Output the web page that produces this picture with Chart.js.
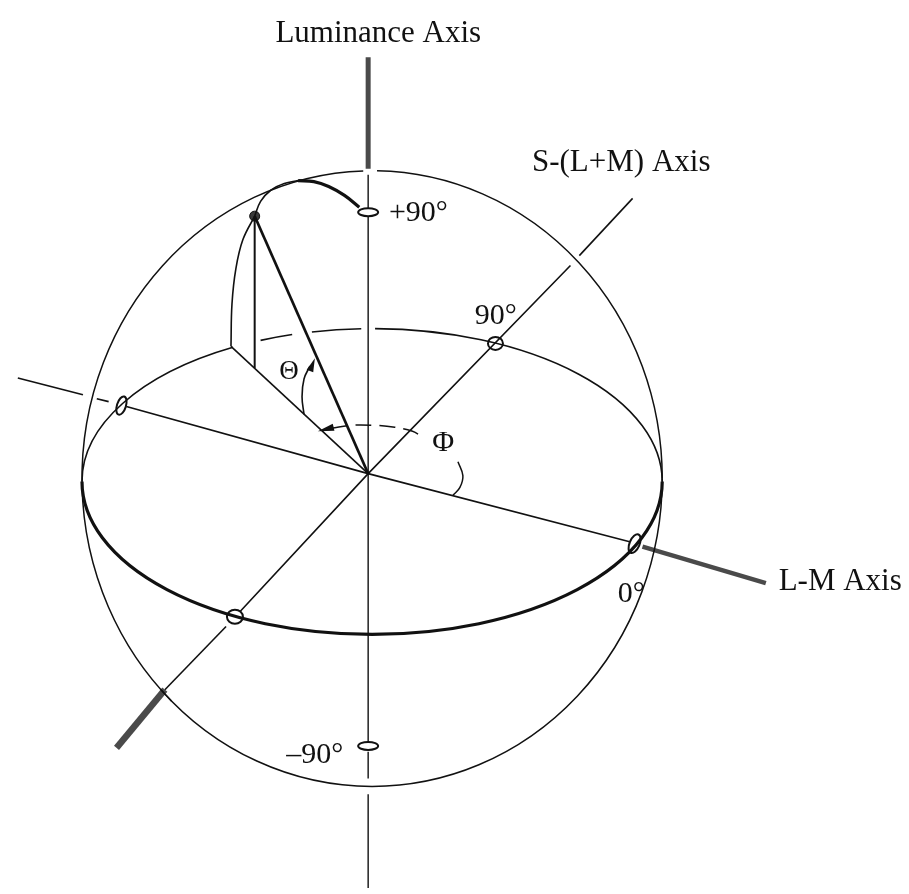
<!DOCTYPE html>
<html>
<head>
<meta charset="utf-8">
<script src="https://cdn.jsdelivr.net/npm/chart.js@4.4.0/dist/chart.umd.min.js"></script>
<style>
  html, body { margin: 0; padding: 0; background: #fff; overflow: hidden; }
  canvas { display: block; }
</style>
</head>
<body>
<canvas id="dklChart" width="909" height="894"></canvas>
<script>
// picture units: x to the right, y downwards (y scale is reversed)
const origin = [367, 474];

const lumAxisOuter = [[367, 52], [367, 165]];
const lumAxisInner = [[367, 171], [367, 205]];
const lumAxisMiddle = [[367, 213], [367, 746]];
const lumAxisLower = [[367, 756], [367, 783]];
const lumAxisBottom = [[367, 799], [367, 894]];

const lmAxisBack = [[12, 377], [78, 394]];
const lmAxisDash = [[92, 398], [104, 401]];
const lmAxisInner = [[122, 406], [367, 474], [632, 543]];
const lmAxisOuter = [[645, 548], [770, 585]];

const sAxisUpper = [[635, 195], [581, 253]];
const sAxisInner = [[572, 263], [367, 474], [237, 614]];
const sAxisLower = [[223, 629], [161, 693]];
const sAxisOuter = [[161, 693], [112, 752]];

const stimulusPoint = [[252, 213]];
const meridianThin = [[252, 213], [258, 198], [268, 187], [282, 180], [296, 177]];
const meridianThick = [[296, 177], [312, 178], [327, 183], [343, 192], [358, 204]];
const meridianDown = [[252, 213], [240, 237], [233, 266], [229, 302], [228, 345]];
const radiusLine = [[252, 213], [367, 474]];
const projectionDrop = [[252, 213], [252, 367]];
const projectionLine = [[228, 345], [367, 474]];

const thetaArc = [[302, 414], [300, 396], [302, 378], [308, 365]];
const phiArc = [[330, 428], [350, 425], [372, 425], [394, 427], [412, 431], [421, 436]];
const phiStartArc = [[458, 462], [463, 476], [460, 488], [453, 496]];

// sphere outline and equator: centre and semi-axes
const sphere = { c: [371, 479], r: [294, 312] };
const equator = { c: [371, 482], r: [294, 155] };
const sphereGaps = [[[362, 167], [376, 167]], [[157, 692], [168, 704]]];
const equatorBackGapsX = [[230, 258], [290, 310], [360, 374]];

const markerCenters = [[367, 209], [367, 750], [117, 405], [637, 545], [496, 342], [232, 619]];
const arrowHeads = [[[313, 357], [308, 370]], [[316, 431], [332, 427]]];

const labelTexts = ['Luminance Axis', 'S-(L+M) Axis', 'L-M Axis', '+90°', '90°', '\u201390°', '0°', 'Θ', 'Φ'];
const labelAnchors = [[273, 36], [533, 167], [783, 592], [388, 218], [475, 322], [284, 767], [620, 604], [277, 378], [432, 451]];

// styling
const ink = '#111';
const axisGrey = '#4a4a4a';
const markerShapes = [[10, 4, 0], [10, 4, 0], [4.5, 9.5, 0.3], [5, 10, 0.4], [7.5, 6.5, 0], [8, 7, 0]];
const labelSizes = [31, 31, 31, 30, 30, 30, 30, 27, 30];

const pts = arr => arr.map(([x, y]) => ({ x, y }));

const segment = (arr, width, color = ink, extra = {}) => ({
    data: pts(arr),
    showLine: true,
    borderColor: color,
    borderWidth: width,
    pointRadius: 0,
    fill: false,
    tension: 0,
    ...extra,
});

const curve = (arr, width, extra = {}) => segment(arr, width, ink, { tension: 0.4, ...extra });

const datasets = [
    segment(lumAxisOuter, 5, axisGrey),
    segment(lumAxisInner, 1.4),
    segment(lumAxisMiddle, 1.4),
    segment(lumAxisLower, 1.4),
    segment(lumAxisBottom, 1.4),
    segment(lmAxisBack, 1.6),
    segment(lmAxisDash, 1.6),
    segment(lmAxisInner, 1.6),
    segment(lmAxisOuter, 4.5, axisGrey),
    segment(sAxisUpper, 1.6),
    segment(sAxisInner, 1.6),
    segment(sAxisLower, 1.6),
    segment(sAxisOuter, 6.5, axisGrey),
    curve(meridianThin, 1.6),
    curve(meridianThick, 3.2),
    curve(meridianDown, 1.6),
    segment(radiusLine, 2.6),
    segment(projectionDrop, 2),
    segment(projectionLine, 1.6),
    curve(thetaArc, 1.6),
    curve(phiArc, 1.5, { borderDash: [16, 8] }),
    curve(phiStartArc, 1.5),
    {
        data: pts(stimulusPoint),
        pointRadius: 5,
        pointBackgroundColor: '#3a3a3a',
        pointBorderColor: ink,
        pointBorderWidth: 1,
        showLine: false,
    },
];

const angleOf = (e, [x, y]) => {
    const t = Math.atan2((y - e.c[1]) / e.r[1], (x - e.c[0]) / e.r[0]);
    return t < 0 ? t + 2 * Math.PI : t;
};

const overlay = {
    id: 'overlay',
    afterDatasetsDraw(chart) {
        const { ctx, scales: { x: xs, y: ys } } = chart;
        const px = v => xs.getPixelForValue(v);
        const py = v => ys.getPixelForValue(v);

        const arc = (e, t0, t1, gaps, width) => {
            const cx = px(e.c[0]);
            const cy = py(e.c[1]);
            const rx = Math.abs(px(e.c[0] + e.r[0]) - cx);
            const ry = Math.abs(py(e.c[1] + e.r[1]) - cy);
            ctx.lineWidth = width;
            let start = t0;
            gaps.slice().sort((a, b) => a[0] - b[0]).forEach(([a, b]) => {
                ctx.beginPath();
                ctx.ellipse(cx, cy, rx, ry, 0, start, a);
                ctx.stroke();
                start = b;
            });
            ctx.beginPath();
            ctx.ellipse(cx, cy, rx, ry, 0, start, t1);
            ctx.stroke();
        };

        ctx.save();
        ctx.strokeStyle = ink;
        ctx.fillStyle = ink;

        // sphere outline
        arc(sphere, 0, 2 * Math.PI, sphereGaps.map(([p, q]) => [angleOf(sphere, p), angleOf(sphere, q)]), 1.5);

        // equator: thick front half, thin broken back half
        arc(equator, 0, Math.PI, [], 3.2);
        const backGaps = equatorBackGapsX.map(([a, b]) => [
            2 * Math.PI - Math.acos((a - equator.c[0]) / equator.r[0]),
            2 * Math.PI - Math.acos((b - equator.c[0]) / equator.r[0]),
        ]);
        arc(equator, Math.PI, 2 * Math.PI, backGaps, 1.6);

        // small open markers on the axes
        ctx.lineWidth = 2;
        markerCenters.forEach(([x, y], i) => {
            const [rx, ry, rot] = markerShapes[i];
            ctx.beginPath();
            ctx.ellipse(px(x), py(y), rx, ry, rot, 0, 2 * Math.PI);
            ctx.stroke();
        });

        // arrow heads on the angle arcs
        arrowHeads.forEach(([tip, tail]) => {
            const tx = px(tip[0]), ty = py(tip[1]);
            const bx = px(tail[0]), by = py(tail[1]);
            const len = Math.hypot(tx - bx, ty - by);
            const nx = -(ty - by) / len * 3.5;
            const ny = (tx - bx) / len * 3.5;
            ctx.beginPath();
            ctx.moveTo(tx, ty);
            ctx.lineTo(bx + nx, by + ny);
            ctx.lineTo(bx - nx, by - ny);
            ctx.closePath();
            ctx.fill();
        });

        // labels
        ctx.textBaseline = 'alphabetic';
        ctx.textAlign = 'left';
        labelTexts.forEach((text, i) => {
            ctx.font = `${labelSizes[i]}px "Liberation Serif", "DejaVu Serif", serif`;
            ctx.fillText(text, px(labelAnchors[i][0]), py(labelAnchors[i][1]));
        });
        ctx.restore();
    },
};

new Chart(document.getElementById('dklChart'), {
    type: 'scatter',
    data: { datasets },
    options: {
        responsive: false,
        animation: false,
        events: [],
        layout: { padding: 0 },
        plugins: {
            legend: { display: false },
            tooltip: { enabled: false },
        },
        scales: {
            x: { type: 'linear', min: 0, max: 909, display: false },
            y: { type: 'linear', min: 0, max: 894, reverse: true, display: false },
        },
    },
    plugins: [overlay],
});
</script>
</body>
</html>
